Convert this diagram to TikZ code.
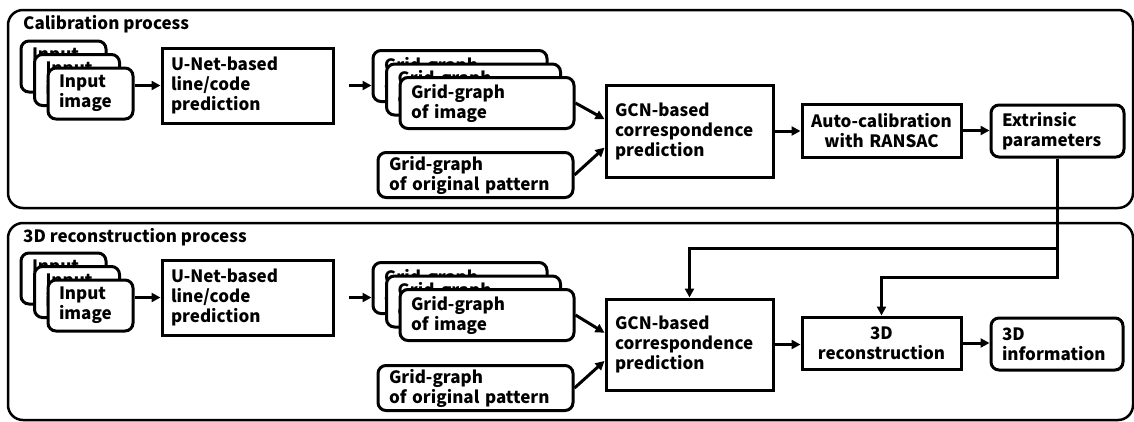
\documentclass[tikz,border=0pt]{standalone}
\usepackage{fontspec}
\setmainfont{Noto Sans CJK JP}
\usetikzlibrary{calc,arrows.meta}
\tikzset{>={Triangle[length=9pt,width=9pt]}}
\tikzset{
  panel/.style={line width=2.5pt,rounded corners=15pt},
  heading/.style={anchor=west,inner sep=0pt,font=\bfseries\fontsize{17}{20}\selectfont},
  procbox/.style={draw,line width=3pt,fill=white,inner xsep=9pt,inner ysep=0pt,align=left,font=\bfseries\fontsize{17}{20}\selectfont},
  databox/.style={procbox,rounded corners=8pt,inner xsep=11pt},
  link/.style={line width=3pt,->},
}

\begin{document}
\begin{tikzpicture}[x=1pt,y=-1pt]
\useasboundingbox (0,0) rectangle (1134,421);
\draw[panel] (8,10) rectangle (1133,208);
\draw[panel] (8,223) rectangle (1133,420);
\node[heading] (caltitle) at (23,24) {Calibration process};
\node[heading] (rectitle) at (23,237) {3D reconstruction process};

% calibration row
\node[databox,text width=63pt,minimum height=51pt] (calin3) at (63.5,66.5) {Input\\image};
\node[databox,text width=63pt,minimum height=51pt] (calin2) at (77,80) {Input\\image};
\node[databox,text width=63pt,minimum height=51pt] (calin1) at (90.5,93.5) {Input\\image};
\node[procbox,text width=153pt,minimum height=75pt] (calunet) at (247.5,85.5) {U-Net-based\\line/code\\prediction};
\node[databox,text width=152pt,minimum height=51pt] (calgr3) at (460,76) {Grid-graph\\of image};
\node[databox,text width=152pt,minimum height=51pt] (calgr2) at (473.5,89.5) {Grid-graph\\of image};
\node[databox,text width=152pt,minimum height=51pt] (calgr1) at (487,103) {Grid-graph\\of image};
\node[databox,text width=173pt,minimum height=45pt] (calorig) at (475.5,175) {Grid-graph\\of original pattern};
\node[procbox,text width=149pt,minimum height=92pt] (calgcn) at (689.5,131) {GCN-based\\correspondence\\prediction};
\node[procbox,align=center,text width=141pt,minimum height=53pt] (autocal) at (881.5,130.5) {Auto-calibration\\with RANSAC};
\node[databox,text width=111pt,minimum height=52pt] (extr) at (1057.5,131) {Extrinsic\\parameters};

\draw[link] (calunet.west -| calin1.east) -- (calunet.west);
\draw[link,shorten <=14pt] (calunet.east) -- (calunet.east -| calgr3.west);
\draw[link] (calgr1.east) -- ($(calgcn.west)!0.25!(calgcn.north west)$);
\draw[link] (calorig.east) -- ($(calgcn.west)!0.35!(calgcn.south west)$);
\draw[link] (calgcn.east) -- (calgcn.east -| autocal.west);
\draw[link] (autocal.east) -- (autocal.east -| extr.west);

% reconstruction row
\node[databox,text width=63pt,minimum height=51pt] (recin3) at (63.5,278.5) {Input\\image};
\node[databox,text width=63pt,minimum height=51pt] (recin2) at (77,292) {Input\\image};
\node[databox,text width=63pt,minimum height=51pt] (recin1) at (90.5,305.5) {Input\\image};
\node[procbox,text width=153pt,minimum height=75pt] (recunet) at (247.5,297.5) {U-Net-based\\line/code\\prediction};
\node[databox,text width=152pt,minimum height=51pt] (recgr3) at (460,288) {Grid-graph\\of image};
\node[databox,text width=152pt,minimum height=51pt] (recgr2) at (473.5,301.5) {Grid-graph\\of image};
\node[databox,text width=152pt,minimum height=51pt] (recgr1) at (487,315) {Grid-graph\\of image};
\node[databox,text width=173pt,minimum height=45pt] (recorig) at (475.5,388) {Grid-graph\\of original pattern};
\node[procbox,text width=149pt,minimum height=91pt] (recgcn) at (689.5,344.5) {GCN-based\\correspondence\\prediction};
\node[procbox,align=center,text width=141pt,minimum height=52pt] (recon) at (881.5,343) {3D\\reconstruction};
\node[databox,text width=110pt,minimum height=52pt] (info) at (1057,344) {3D\\information};

\draw[link] (recunet.west -| recin1.east) -- (recunet.west);
\draw[link,shorten <=14pt] (recunet.east) -- (recunet.east -| recgr3.west);
\draw[link] (recgr1.east) -- ($(recgcn.west)!0.25!(recgcn.north west)$);
\draw[link] (recorig.east) -- ($(recgcn.west)!0.35!(recgcn.south west)$);
\draw[link] (recgcn.east) -- (recgcn.east -| recon.west);
\draw[link] (recon.east) -- (recon.east -| info.west);

% extrinsic parameters fed down
\coordinate (feeda) at (recgcn.north |- 0,248);
\coordinate (feedb) at (recon.north |- 0,277);
\draw[link] (extr.south) |- (feeda) -- (recgcn.north);
\draw[link] (extr.south) |- (feedb) -- (recon.north);
\end{tikzpicture}
\end{document}
